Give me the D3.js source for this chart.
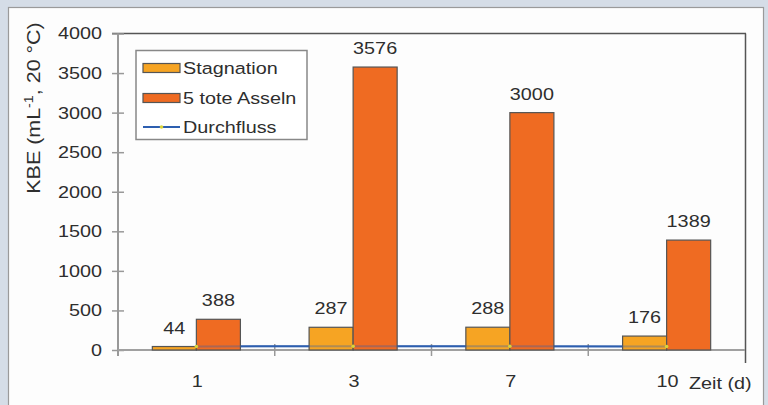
<!DOCTYPE html>
<html>
<head>
<meta charset="utf-8">
<script src="https://cdn.jsdelivr.net/npm/d3@7"></script>
<style>
  html, body { margin: 0; padding: 0; background: #d5dde7; }
  svg { display: block; font-family: "Liberation Sans", Arial, sans-serif; }
</style>
</head>
<body>
<div id="chart"></div>
<script>
// data
const categories = ['1', '3', '7', '10'];
const stagnation = [44, 287, 288, 176];
const asseln = [388, 3576, 3000, 1389];
const durchfluss = [45, 48, 48, 45];
const yTicks = [0, 500, 1000, 1500, 2000, 2500, 3000, 3500, 4000];
const seriesNames = ['Stagnation', '5 tote Asseln', 'Durchfluss'];

const width = 768, height = 405;
const SX = 1.2; // text in the picture is a bit wide
const colStag = '#f6a423', colAss = '#ef6b22', colLine = '#2d5fb0', ink = '#2e2e2e';

const svg = d3.select('#chart').append('svg')
  .attr('width', width).attr('height', height);

// outer frame
svg.append('rect').attr('width', width).attr('height', height).attr('fill', '#d5dde7');
svg.append('rect').attr('x', 8.5).attr('y', 7.5).attr('width', 755).attr('height', 400)
  .attr('fill', '#fdfdfd').attr('stroke', '#9a9a9a').attr('stroke-width', 1.2);

const x0 = d3.scaleBand().domain(categories).range([118, 745]);
const x1 = d3.scaleBand().domain(['stag', 'ass']).range([0, x0.bandwidth()]).paddingOuter(0.78);
const y = d3.scaleLinear().domain([0, 4000]).range([350, 33.5]);

// helper for stretched text
function txt(g, x, yy, s, anchor) {
  return g.append('text')
    .attr('x', x / SX).attr('y', yy)
    .attr('transform', `scale(${SX},1)`)
    .attr('text-anchor', anchor || 'middle')
    .attr('fill', ink).attr('font-size', 16.5)
    .text(s);
}

// frame top + right
svg.append('line').attr('x1', 112).attr('x2', 746).attr('y1', 33.5).attr('y2', 33.5)
  .attr('stroke', '#555').attr('stroke-width', 1.5);
svg.append('line').attr('x1', 745.5).attr('x2', 745.5).attr('y1', 33.5).attr('y2', 363)
  .attr('stroke', '#555').attr('stroke-width', 1.5);

// y axis
const yAxis = svg.append('g').attr('transform', 'translate(118,0)')
  .call(d3.axisLeft(y).tickValues(yTicks).tickSize(6).tickFormat(''));
yAxis.select('.domain').remove();
yAxis.selectAll('.tick line').attr('x1', -6).attr('x2', 6).attr('stroke', '#999').attr('stroke-width', 1.5);
svg.append('line').attr('x1', 118).attr('x2', 118).attr('y1', 33.5).attr('y2', 356)
  .attr('stroke', '#999').attr('stroke-width', 2);
yTicks.forEach(t => txt(svg, 102, y(t) + 6, t, 'end'));

// x axis
svg.append('line').attr('x1', 118).attr('x2', 745).attr('y1', y(0)).attr('y2', y(0))
  .attr('stroke', '#a0a0a0').attr('stroke-width', 2);
categories.slice(1).forEach(c => {
  svg.append('line').attr('x1', x0(c)).attr('x2', x0(c)).attr('y1', 344).attr('y2', 356)
    .attr('stroke', '#999').attr('stroke-width', 1.5);
});
categories.forEach(c => txt(svg, x0(c) + x0.bandwidth() / 2 + 1, 387, c));
txt(svg, 689, 389, 'Zeit (d)', 'start');

// y title
const yt = svg.append('text')
  .attr('transform', `translate(40,108) scale(1.12,1) rotate(-90) scale(1.3,1)`)
  .attr('text-anchor', 'middle').attr('fill', ink).attr('font-size', 16.5);
yt.append('tspan').text('KBE (mL');
yt.append('tspan').attr('dy', -6).attr('font-size', 11).text('-1');
yt.append('tspan').attr('dy', 6).text(', 20 °C)');

// line under bars
const line = d3.line()
  .x((d, i) => x0(categories[i]) + x0.bandwidth() / 2)
  .y(d => y(d));
svg.append('path').datum(durchfluss).attr('d', line)
  .attr('fill', 'none').attr('stroke', colLine).attr('stroke-width', 2);

// bars
const groups = svg.selectAll('.grp').data(categories).enter().append('g')
  .attr('class', 'grp').attr('transform', d => `translate(${x0(d)},0)`);
groups.append('rect')
  .attr('x', x1('stag')).attr('width', x1.bandwidth())
  .attr('y', (d, i) => y(stagnation[i])).attr('height', (d, i) => y(0) - y(stagnation[i]))
  .attr('fill', colStag).attr('stroke', '#555').attr('stroke-width', 1.2);
groups.append('rect')
  .attr('x', x1('ass')).attr('width', x1.bandwidth())
  .attr('y', (d, i) => y(asseln[i])).attr('height', (d, i) => y(0) - y(asseln[i]))
  .attr('fill', colAss).attr('stroke', '#555').attr('stroke-width', 1.2);

// faint line showing through bars + markers
svg.append('path').datum(durchfluss).attr('d', line)
  .attr('fill', 'none').attr('stroke', colLine).attr('stroke-width', 2).attr('stroke-opacity', 0.35);
svg.selectAll('.mk').data(durchfluss).enter().append('circle')
  .attr('cx', (d, i) => x0(categories[i]) + x0.bandwidth() / 2).attr('cy', d => y(d))
  .attr('r', 1.8).attr('fill', '#d9d43a');

// value labels
categories.forEach((c, i) => {
  txt(svg, x0(c) + x1('stag') + x1.bandwidth() / 2, y(stagnation[i]) - 13, stagnation[i]);
  txt(svg, x0(c) + x1('ass') + x1.bandwidth() / 2, y(asseln[i]) - 13, asseln[i]);
});

// legend
const lg = svg.append('g');
lg.append('rect').attr('x', 136).attr('y', 50.5).attr('width', 171).attr('height', 89)
  .attr('fill', '#fff').attr('stroke', '#888').attr('stroke-width', 1.5);
const ly = [68, 98, 127];
lg.append('rect').attr('x', 143).attr('y', ly[0] - 4.5).attr('width', 37).attr('height', 9)
  .attr('fill', colStag).attr('stroke', '#555').attr('stroke-width', 1.2);
lg.append('rect').attr('x', 143).attr('y', ly[1] - 4.5).attr('width', 37).attr('height', 9)
  .attr('fill', colAss).attr('stroke', '#555').attr('stroke-width', 1.2);
lg.append('line').attr('x1', 143).attr('x2', 180).attr('y1', ly[2]).attr('y2', ly[2])
  .attr('stroke', colLine).attr('stroke-width', 2);
lg.append('circle').attr('cx', 161.5).attr('cy', ly[2]).attr('r', 1.8).attr('fill', '#d9d43a');
seriesNames.forEach((s, i) => txt(lg, 183, ly[i] + 6, s, 'start'));
</script>
</body>
</html>
